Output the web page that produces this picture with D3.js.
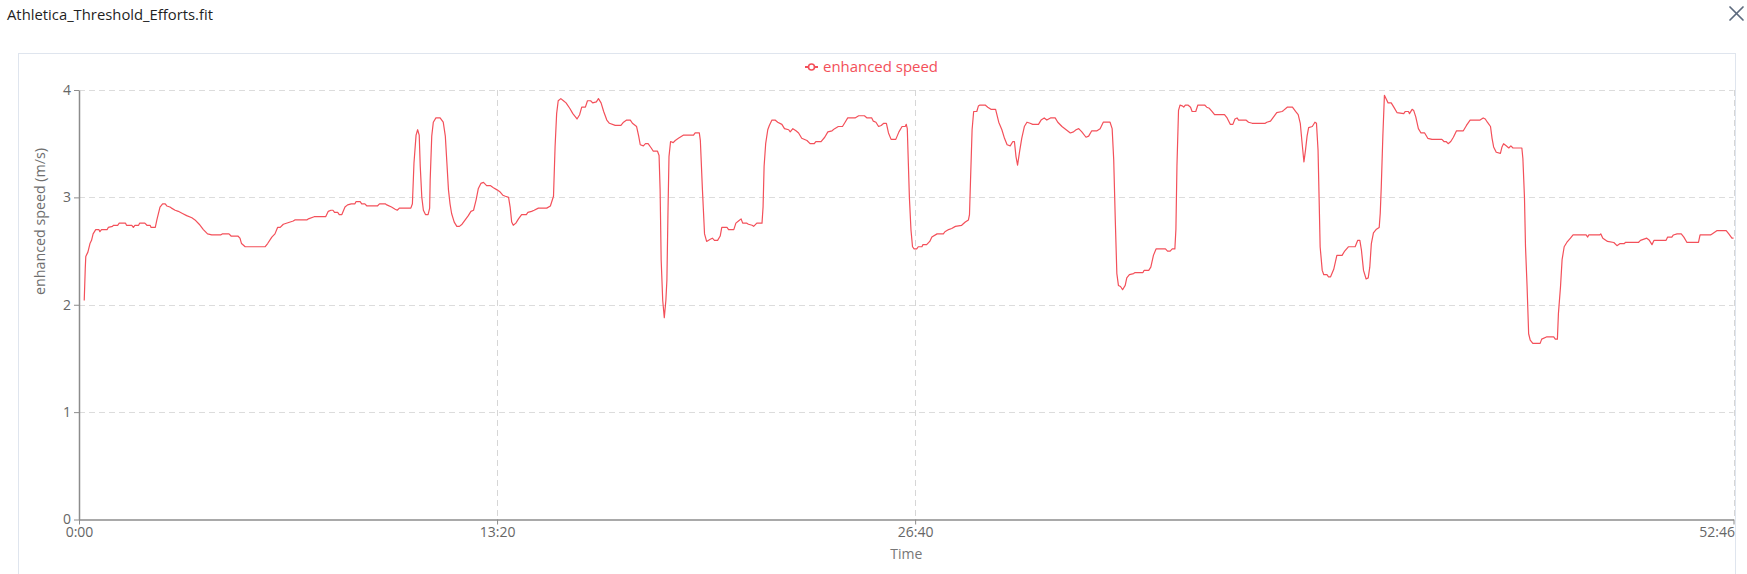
<!DOCTYPE html>
<html><head><meta charset="utf-8">
<script src="https://cdn.jsdelivr.net/npm/d3@7"></script>
<style>
body{margin:0;background:#fff;overflow:hidden}
svg{display:block}
text{font-family:"Open Sans","Noto Sans",sans-serif}
</style>
</head><body>
<svg id="c" width="1747" height="574"></svg>
<script>
// ---- data (time in seconds, enhanced speed in m/s) ----
const timeSec = [10,12,13,17,21,24,27,32,38,40,43,54,56,64,66,74,77,89,91,101,104,107,114,116,126,130,136,138,146,149,155,160,165,168,174,177,184,190,198,206,216,222,230,238,246,254,271,274,287,291,304,308,311,318,356,361,369,375,380,385,391,410,413,436,439,450,472,477,482,486,489,495,498,503,509,514,521,
528,530,538,541,547,551,571,575,586,589,598,605,609,613,635,638,641,645,648,651,653,656,659,663,668,671,672,675,678,683,691,697,701,704,707,710,713,718,723,728,733,739,745,750,755,760,764,769,774,780,787,793,800,806,811,816,822,825,828,831,836,841,847,856,859,866,871,879,895,902,908,911,914,917,922,927,932,939,945,953,958,962,969,973,979,983,990,994,999,1004,1010,1015,1026,1037,1042,1048,
1055,1059,1067,1071,1074,1080,1084,1089,1095,1099,1107,1110,1112,1114,1117,1120,1123,1125,1127,1129,1132,1137,1141,1147,1157,1176,1179,1187,1189,1193,1197,1201,1208,1212,1216,1222,1227,1230,1240,1243,1253,1257,1262,1267,1270,1278,1281,1288,1291,1297,1307,1309,1311,1314,1318,1321,1326,1332,1337,1345,1350,1358,1361,1366,1372,1377,1383,1393,1399,1407,1410,1420,1427,1433,1441,1446,1453,1461,1466,1471,1485,1492,1503,1508,1517,1520,1525,1530,1535,1540,1545,1549,1554,1563,1569,1575,
1581,1583,1585,1587,1589,1592,1595,1598,1603,1606,1613,1615,1622,1628,1632,1642,1654,1657,1664,1670,1677,1689,1696,1702,1704,1706,1709,1712,1718,1721,1724,1734,1739,1745,1754,1760,1766,1771,1776,1782,1787,1790,1793,1796,1800,1804,1809,1814,1820,1825,1836,1841,1847,1852,1859,1868,1873,1881,1889,1897,1903,1908,1913,1919,1927,1932,1938,1948,1954,1960,1973,1977,1980,1983,1986,1989,1993,1997,2002,2005,2010,2018,2021,2036,2038,2047,2051,2056,2061,2079,2083,2088,2092,2097,2099,2101,2104,2107,
2112,2114,2117,2122,2127,2130,2137,2141,2154,2158,2163,2168,2173,2192,2197,2203,2208,2212,2216,2219,2233,2238,2245,2270,2273,2280,2286,2292,2302,2305,2312,2322,2328,2333,2337,2340,2344,2347,2350,2353,2360,2365,2368,2371,2373,2375,2379,2382,2388,2391,2395,2401,2407,2417,2422,2429,2442,2447,2451,2454,2458,2463,2467,2470,2473,2477,2482,2488,2490,2492,2495,2498,2501,2505,2511,2516,2522,2535,2538,2544,2546,2551,2554,2558,2563,2568,2575,2581,2589,2608,2612,2616,2620,
2625,2630,2636,2649,2655,2662,2681,2687,2691,2695,2701,2704,2707,2712,2720,2723,2726,2731,2736,2740,2744,2761,2763,2766,2768,2771,2774,2777,2782,2796,2799,2808,2822,2825,2829,2831,2835,2838,2842,2847,2854,2859,2884,2887,2889,2910,2912,2916,2925,2937,2943,2949,2957,2959,2984,2988,3000,3005,3010,3014,3037,3040,3048,3051,3058,3066,3071,3077,3099,3102,3122,3125,3134,3152,3157,3163,3166];
const speed = [2.04,2.34,2.45,2.49,2.57,2.60,2.66,2.70,2.70,2.68,2.70,2.70,2.72,2.73,2.74,2.74,2.76,2.76,2.74,2.74,2.72,2.74,2.74,2.76,2.76,2.74,2.74,2.72,2.72,2.79,2.91,2.94,2.94,2.92,2.91,2.90,2.88,2.87,2.85,2.83,2.81,2.79,2.75,2.70,2.66,2.65,2.65,2.66,2.66,2.64,2.64,2.62,2.57,2.54,2.54,2.57,2.63,2.66,2.72,2.72,2.75,2.78,2.79,2.79,2.80,2.82,2.82,2.87,2.88,2.88,2.86,2.86,2.84,2.84,2.91,2.93,2.94,
2.94,2.96,2.96,2.94,2.94,2.92,2.92,2.94,2.94,2.93,2.91,2.89,2.88,2.90,2.90,2.94,3.32,3.58,3.63,3.58,3.29,3.00,2.88,2.84,2.84,2.90,3.16,3.57,3.70,3.74,3.74,3.70,3.57,3.32,3.07,2.94,2.85,2.77,2.73,2.73,2.75,2.79,2.83,2.87,2.88,2.98,3.08,3.13,3.14,3.11,3.11,3.09,3.07,3.05,3.02,3.01,3.00,2.91,2.77,2.74,2.76,2.80,2.84,2.84,2.86,2.87,2.88,2.90,2.90,2.92,3.01,3.47,3.78,3.90,3.92,3.90,3.88,3.83,3.78,3.73,3.77,3.84,3.84,3.90,3.90,3.88,3.89,3.92,3.88,3.80,3.72,3.69,3.67,3.67,3.70,3.72,
3.72,3.69,3.66,3.57,3.49,3.48,3.50,3.50,3.46,3.43,3.43,3.39,3.07,2.42,2.04,1.88,2.04,2.23,2.85,3.38,3.52,3.51,3.53,3.55,3.58,3.58,3.60,3.60,3.53,3.07,2.66,2.59,2.61,2.62,2.60,2.60,2.64,2.72,2.72,2.70,2.70,2.76,2.78,2.80,2.76,2.76,2.75,2.74,2.73,2.76,2.76,2.91,3.29,3.50,3.63,3.67,3.72,3.72,3.70,3.68,3.64,3.63,3.61,3.64,3.62,3.60,3.55,3.53,3.50,3.50,3.52,3.52,3.56,3.61,3.62,3.64,3.66,3.66,3.70,3.74,3.74,3.76,3.76,3.74,3.74,3.71,3.70,3.66,3.67,3.69,3.69,3.60,3.54,3.54,3.61,3.66,
3.66,3.68,3.64,3.32,3.00,2.70,2.54,2.52,2.52,2.54,2.54,2.56,2.56,2.59,2.63,2.66,2.66,2.68,2.70,2.71,2.73,2.74,2.77,2.79,2.84,3.16,3.63,3.80,3.80,3.85,3.86,3.86,3.84,3.82,3.82,3.70,3.63,3.55,3.49,3.48,3.52,3.52,3.38,3.30,3.43,3.55,3.66,3.70,3.69,3.68,3.68,3.72,3.74,3.72,3.74,3.74,3.70,3.66,3.63,3.60,3.61,3.63,3.64,3.61,3.56,3.57,3.62,3.62,3.64,3.70,3.70,3.64,3.35,2.79,2.29,2.18,2.17,2.14,2.18,2.25,2.28,2.29,2.30,2.30,2.32,2.32,2.35,2.46,2.52,2.52,2.50,2.50,2.52,2.52,2.70,3.29,3.81,3.86,
3.85,3.84,3.86,3.86,3.84,3.80,3.80,3.86,3.86,3.84,3.83,3.80,3.77,3.77,3.74,3.68,3.68,3.73,3.74,3.72,3.72,3.70,3.69,3.69,3.70,3.71,3.75,3.79,3.80,3.81,3.84,3.84,3.80,3.77,3.69,3.53,3.33,3.44,3.57,3.65,3.66,3.70,3.69,3.44,3.00,2.54,2.32,2.28,2.28,2.26,2.26,2.33,2.46,2.46,2.50,2.54,2.54,2.60,2.60,2.51,2.32,2.24,2.25,2.35,2.57,2.67,2.70,2.72,2.85,3.10,3.57,3.95,3.92,3.88,3.88,3.84,3.79,3.78,3.80,3.80,3.78,3.82,3.81,3.75,3.64,3.60,3.60,3.55,3.54,3.54,3.52,3.52,3.50,
3.52,3.56,3.62,3.62,3.67,3.72,3.72,3.74,3.73,3.70,3.66,3.55,3.47,3.42,3.41,3.47,3.50,3.48,3.46,3.48,3.46,3.46,3.36,3.00,2.54,2.17,1.73,1.67,1.64,1.64,1.68,1.70,1.70,1.68,1.68,1.92,2.17,2.42,2.54,2.58,2.62,2.65,2.65,2.63,2.65,2.65,2.66,2.62,2.59,2.58,2.55,2.57,2.57,2.58,2.58,2.60,2.62,2.60,2.56,2.60,2.60,2.63,2.63,2.65,2.66,2.66,2.63,2.58,2.58,2.65,2.65,2.66,2.69,2.69,2.66,2.62,2.62];
const xTickValues = [0, 800, 1600, 3166];
const xTickLabels = ["0:00", "13:20", "26:40", "52:46"];
const yTickValues = [0, 1, 2, 3, 4];
const seriesName = "enhanced speed";
const yAxisTitle = "enhanced speed (m/s)";
const xAxisTitle = "Time";
const fileTitle = "Athletica_Threshold_Efforts.fit";

// ---- layout ----
const RED = "#f3505a";
const L = 79, R = 1733.5, T = 90, B = 519.5;
const svg = d3.select("#c");
svg.append("rect").attr("width",1747).attr("height",574).attr("fill","#fff");

// window title
svg.append("text").attr("x",7).attr("y",20).attr("font-size",15).attr("fill","#1f1f1f")
  .attr("textLength",206).attr("lengthAdjust","spacingAndGlyphs").text(fileTitle);
// close icon
const cx = svg.append("g").attr("stroke","#5d6a7e").attr("stroke-width",1.7).attr("stroke-linecap","round");
cx.append("line").attr("x1",1730).attr("y1",7).attr("x2",1743).attr("y2",20);
cx.append("line").attr("x1",1743).attr("y1",7).attr("x2",1730).attr("y2",20);
// panel
svg.append("rect").attr("x",18.5).attr("y",53.5).attr("width",1717).attr("height",600)
  .attr("fill","none").attr("stroke","#dfe5ee").attr("stroke-width",1);

const x = d3.scaleLinear().domain([0, 3166]).range([L, R]);
const y = d3.scaleLinear().domain([0, 4]).range([B, T]);

// grid
const grid = svg.append("g").attr("stroke","#d6d6d6").attr("stroke-width",1).attr("stroke-dasharray","6,4");
yTickValues.filter(v=>v>0).forEach(v=>{
  const yy = Math.round(y(v))+0.5;
  grid.append("line").attr("x1",L).attr("x2",R).attr("y1",yy).attr("y2",yy).attr("stroke","#dcdcdc");
});
xTickValues.filter(v=>v>0).forEach(v=>{
  const xx = Math.round(x(v))+0.5;
  grid.append("line").attr("x1",xx).attr("x2",xx).attr("y1",T).attr("y2",B);
});

// axes
const yAxis = svg.append("g").attr("transform",`translate(${L},0)`)
  .call(d3.axisLeft(y).tickValues(yTickValues).tickFormat(d3.format("d")).tickSize(5).tickSizeOuter(0).tickPadding(3));
const xAxis = svg.append("g").attr("transform",`translate(0,${B})`)
  .call(d3.axisBottom(x).tickValues(xTickValues).tickFormat((d,i)=>xTickLabels[i]).tickSize(5).tickSizeOuter(0).tickPadding(3));
[yAxis, xAxis].forEach(a=>{
  a.select(".domain").attr("stroke","#8c8c8c").attr("stroke-width",1.5);
  a.selectAll(".tick line").attr("stroke","#8c8c8c");
  a.selectAll(".tick text").attr("fill","#666").attr("font-size",14)
    .attr("font-family",'"Open Sans","Noto Sans",sans-serif');
});
xAxis.selectAll(".tick text").filter((d,i)=>i===xTickValues.length-1).attr("text-anchor","end").attr("dx","1");

// axis titles
svg.append("text").attr("x",(L+R)/2).attr("y",559).attr("text-anchor","middle")
  .attr("font-size",14).attr("fill","#777").text(xAxisTitle);
svg.append("text").attr("transform","translate(45,221.5) rotate(-90)").attr("text-anchor","middle")
  .attr("font-size",14.5).attr("fill","#6e6e6e").attr("textLength",147).attr("lengthAdjust","spacingAndGlyphs").text(yAxisTitle);

// series line
const data = timeSec.map((t,i)=>({t, v: speed[i]}));
svg.append("path").datum(data).attr("fill","none").attr("stroke",RED).attr("stroke-width",1.2)
  .attr("stroke-linejoin","round")
  .attr("d", d3.line().x(d=>x(d.t)).y(d=>y(d.v)));

// legend
const lg = svg.append("g");
lg.append("line").attr("x1",805).attr("x2",818).attr("y1",67).attr("y2",67).attr("stroke",RED).attr("stroke-width",2);
lg.append("circle").attr("cx",811.5).attr("cy",67).attr("r",3).attr("fill","#fff").attr("stroke",RED).attr("stroke-width",1.6);
lg.append("text").attr("x",823).attr("y",72).attr("font-size",15).attr("fill",RED)
  .attr("textLength",115).attr("lengthAdjust","spacingAndGlyphs").text(seriesName);
</script>
</body></html>
